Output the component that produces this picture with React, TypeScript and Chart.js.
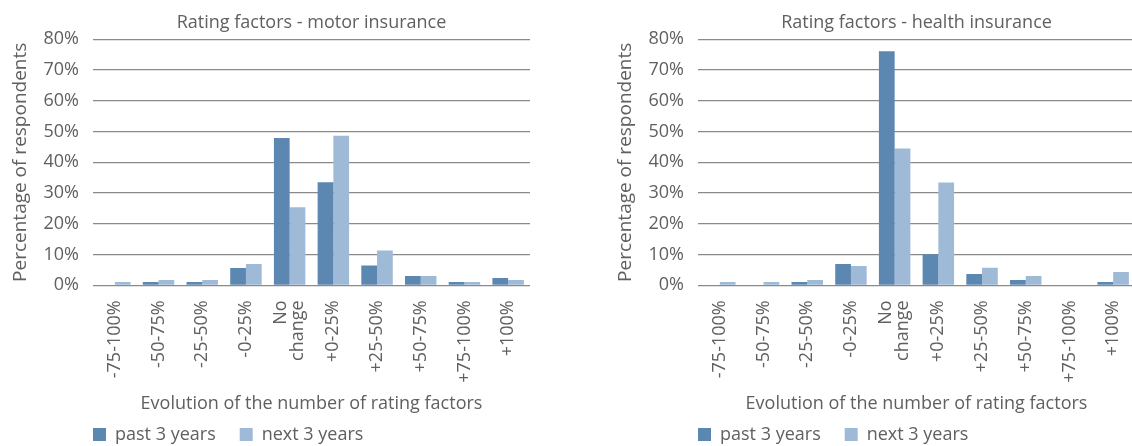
import React, { useEffect, useRef } from 'react';
import { Chart, registerables } from 'chart.js';

Chart.register(...registerables);

// ---- data ----
const categories: (string | string[])[] = ['-75-100%', '-50-75%', '-25-50%', '-0-25%', ['No', 'change'], '+0-25%', '+25-50%', '+50-75%', '+75-100%', '+100%'];
const seriesLabels = ['past 3 years', 'next 3 years'];
const motorPast = [0, 1.1, 1.1, 5.6, 47.9, 33.5, 6.4, 3.0, 1.1, 2.4];
const motorNext = [1.1, 1.7, 1.7, 6.9, 25.4, 48.6, 11.3, 3.0, 1.1, 1.7];
const healthPast = [0, 0, 1.1, 6.9, 76.1, 10.1, 3.7, 1.7, 0, 1.1];
const healthNext = [1.1, 1.1, 1.7, 6.3, 44.5, 33.4, 5.7, 3.0, 0, 4.3];
const yTickValues = [0, 10, 20, 30, 40, 50, 60, 70, 80];
const chartTitles = ['Rating factors - motor insurance', 'Rating factors - health insurance'];
const yAxisTitle = 'Percentage of respondents';
const xAxisTitle = 'Evolution of the number of rating factors';

// ---- style / layout ----
const PAST_COLOR = '#5b87b1';
const NEXT_COLOR = '#9fbad6';
const TEXT_COLOR = '#606060';
const GRID_COLOR = '#8a8a8a';
const FAMILY = "'Open Sans', 'DejaVu Sans', sans-serif";
const FONT = 18;
const Y_TITLE_FONT = 19;
const W = 566;
const H = 446;
const PLOT_LEFT = 93;
const PAD_RIGHT = 36;
const PLOT_BOTTOM = 285.3;
const LEGEND_PAD = 24;
const LEGEND_HEIGHT = FONT + LEGEND_PAD + 10;
const LEGEND_BOX_TOP = 428;
const X_TITLE_MID = 404;

const legendShift = {
  id: 'legendShift',
  afterLayout(chart: any) {
    const lg = chart.legend;
    if (!lg) return;
    const pad = lg.options.labels.padding;
    const dx = chart.chartArea.left - pad - lg.left;
    lg.left += dx;
    lg.right += dx;
    const fontSize = lg.options.labels.font.size;
    const boxH = lg.options.labels.boxHeight;
    const targetTop = LEGEND_BOX_TOP - Math.max((fontSize - boxH) / 2, 0) - pad;
    const dy = targetTop - lg.top;
    lg.top += dy;
    lg.bottom += dy;
  },
};

const centerMultiLineTicks = {
  id: 'centerMultiLineTicks',
  beforeDraw(chart: any) {
    const sc = chart.scales.x;
    if (!sc) return;
    const items = sc.getLabelItems();
    items.forEach((it: any) => {
      if (Array.isArray(it.label) && !it.__shifted) {
        const lh = it.font.lineHeight;
        it.options.translation[0] -= ((it.label.length - 1) * lh) / 2;
        it.__shifted = true;
      }
    });
  },
};

function RatingChart({ title, past, next, left }: { title: string; past: number[]; next: number[]; left: number }) {
  const ref = useRef<HTMLCanvasElement>(null);
  useEffect(() => {
    const font = { family: FAMILY, size: FONT, weight: 'normal' as const, lineHeight: 1.2 };
    const chart = new Chart(ref.current!, {
      type: 'bar',
      data: {
        labels: categories,
        datasets: [
          { label: seriesLabels[0], data: past, backgroundColor: PAST_COLOR, borderWidth: 0 },
          { label: seriesLabels[1], data: next, backgroundColor: NEXT_COLOR, borderWidth: 0 },
        ],
      },
      options: {
        responsive: false,
        animation: false,
        devicePixelRatio: 1,
        events: [],
        layout: { padding: { left: 0, right: PAD_RIGHT, top: 0, bottom: 0 } },
        datasets: { bar: { categoryPercentage: 0.72, barPercentage: 1.0 } },
        plugins: {
          tooltip: { enabled: false },
          title: {
            display: true,
            text: title,
            fullSize: false,
            align: 'center',
            color: TEXT_COLOR,
            font,
            padding: { top: 12, bottom: 5.7 },
          },
          legend: {
            display: true,
            position: 'bottom',
            align: 'start',
            labels: {
              boxWidth: 13,
              boxHeight: 13,
              padding: LEGEND_PAD,
              color: TEXT_COLOR,
              font: { family: FAMILY, size: FONT },
            },
          },
        },
        scales: {
          x: {
            grid: { display: false, drawTicks: false },
            border: { display: false },
            ticks: {
              autoSkip: false,
              minRotation: 90,
              maxRotation: 90,
              padding: 15,
              color: TEXT_COLOR,
              font: { family: FAMILY, size: FONT, lineHeight: 0.95 },
            },
            title: {
              display: true,
              text: xAxisTitle,
              color: TEXT_COLOR,
              font,
              padding: { top: 0, bottom: H - LEGEND_HEIGHT - X_TITLE_MID - (FONT * 1.2) / 2 },
            },
            afterFit: (s: any) => {
              s.height = H - PLOT_BOTTOM - LEGEND_HEIGHT;
            },
          },
          y: {
            min: 0,
            max: 80,
            grid: { color: GRID_COLOR, lineWidth: 1.3, drawTicks: false },
            border: { display: false },
            ticks: {
              padding: 14,
              color: TEXT_COLOR,
              font: { family: FAMILY, size: FONT },
              callback: (v: any) => v + '%',
            },
            afterBuildTicks: (s: any) => {
              s.ticks = yTickValues.map((v) => ({ value: v }));
            },
            title: {
              display: true,
              text: yAxisTitle,
              color: TEXT_COLOR,
              font: { family: FAMILY, size: Y_TITLE_FONT, lineHeight: 1.2 },
              padding: { top: 9, bottom: 0 },
            },
            afterFit: (s: any) => {
              s.width = PLOT_LEFT;
            },
          },
        },
      },
      plugins: [legendShift, centerMultiLineTicks],
    });
    return () => chart.destroy();
  }, [title, past, next]);
  return (
    <canvas
      ref={ref}
      width={W}
      height={H}
      style={{ position: 'absolute', left, top: 0, width: W, height: H }}
    />
  );
}

export default function App() {
  return (
    <div
      style={{
        position: 'fixed',
        left: 0,
        top: 0,
        width: 1132,
        height: 446,
        overflow: 'hidden',
        background: '#ffffff',
      }}
    >
      <RatingChart title={chartTitles[0]} past={motorPast} next={motorNext} left={0} />
      <RatingChart title={chartTitles[1]} past={healthPast} next={healthNext} left={605} />
    </div>
  );
}
